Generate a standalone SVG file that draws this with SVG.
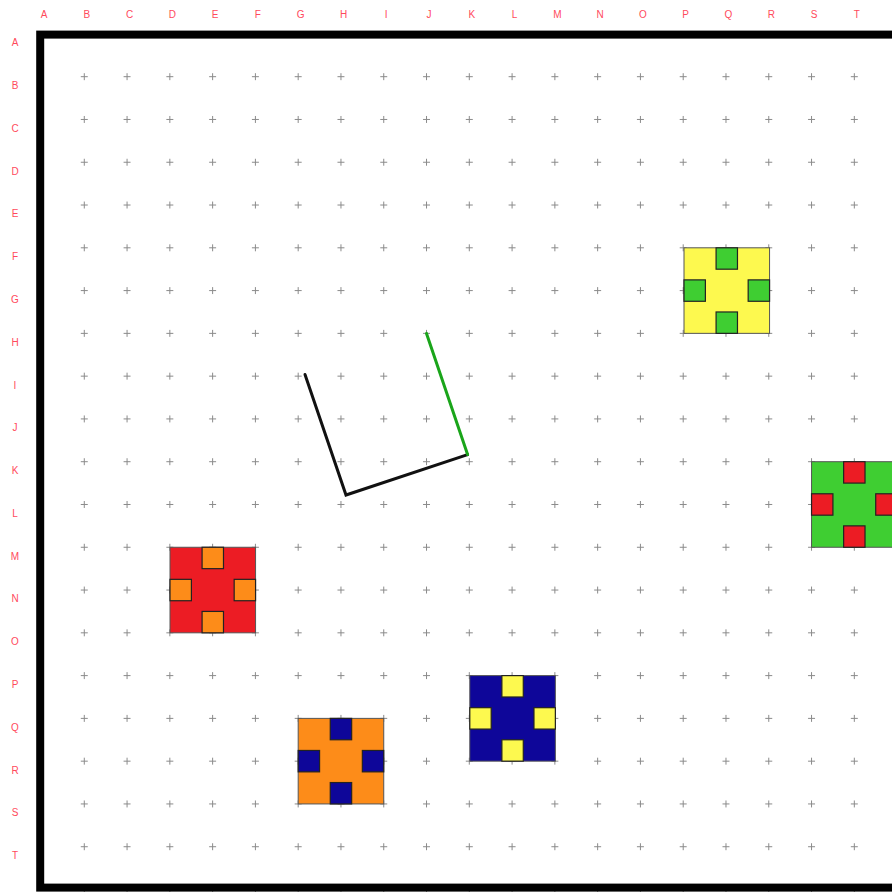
<svg xmlns="http://www.w3.org/2000/svg" width="892" height="892" viewBox="0 0 892 892">
<style>
.lbl{font-family:"Liberation Sans",Arial,sans-serif;font-size:10px;fill:#ff4a5c;text-anchor:middle}
.big{stroke:#555;stroke-width:1}
.sm{stroke:#222;stroke-width:1.2}
.cross{stroke:#8a8a8a;stroke-width:1;fill:none}
.edge{fill:none;stroke-width:3;stroke-linecap:round;stroke-linejoin:miter}
</style>
<defs>
<pattern id="grid" patternUnits="userSpaceOnUse" x="20.11" y="12.51" width="42.78" height="42.78">
<path class="cross" d="M17.89 21.39H24.89M21.39 17.89V24.89"/>
</pattern>
<g id="cell4">
<rect class="sm" x="32.085" y="0" width="21.39" height="21.39"/>
<rect class="sm" x="32.085" y="64.17" width="21.39" height="21.39"/>
<rect class="sm" x="0" y="32.085" width="21.39" height="21.39"/>
<rect class="sm" x="64.17" y="32.085" width="21.39" height="21.39"/>
</g>
</defs>
<rect width="892" height="892" fill="#fff"/>
<g id="labels">
<text class="lbl" x="44" y="18">A</text>
<text class="lbl" x="86.8" y="18">B</text>
<text class="lbl" x="129.6" y="18">C</text>
<text class="lbl" x="172.3" y="18">D</text>
<text class="lbl" x="215.1" y="18">E</text>
<text class="lbl" x="257.9" y="18">F</text>
<text class="lbl" x="300.7" y="18">G</text>
<text class="lbl" x="343.5" y="18">H</text>
<text class="lbl" x="386.2" y="18">I</text>
<text class="lbl" x="429" y="18">J</text>
<text class="lbl" x="471.8" y="18">K</text>
<text class="lbl" x="514.6" y="18">L</text>
<text class="lbl" x="557.4" y="18">M</text>
<text class="lbl" x="600.1" y="18">N</text>
<text class="lbl" x="642.9" y="18">O</text>
<text class="lbl" x="685.7" y="18">P</text>
<text class="lbl" x="728.5" y="18">Q</text>
<text class="lbl" x="771.3" y="18">R</text>
<text class="lbl" x="814" y="18">S</text>
<text class="lbl" x="856.8" y="18">T</text>
<text class="lbl" x="15" y="46.3">A</text>
<text class="lbl" x="15" y="89.1">B</text>
<text class="lbl" x="15" y="131.9">C</text>
<text class="lbl" x="15" y="174.6">D</text>
<text class="lbl" x="15" y="217.4">E</text>
<text class="lbl" x="15" y="260.2">F</text>
<text class="lbl" x="15" y="303">G</text>
<text class="lbl" x="15" y="345.8">H</text>
<text class="lbl" x="15" y="388.5">I</text>
<text class="lbl" x="15" y="431.3">J</text>
<text class="lbl" x="15" y="474.1">K</text>
<text class="lbl" x="15" y="516.9">L</text>
<text class="lbl" x="15" y="559.7">M</text>
<text class="lbl" x="15" y="602.4">N</text>
<text class="lbl" x="15" y="645.2">O</text>
<text class="lbl" x="15" y="688">P</text>
<text class="lbl" x="15" y="730.8">Q</text>
<text class="lbl" x="15" y="773.6">R</text>
<text class="lbl" x="15" y="816.3">S</text>
<text class="lbl" x="15" y="859.1">T</text>
</g>
<rect id="dots" x="62" y="55" width="840" height="840" fill="url(#grid)"/>
<g id="node-yellow" transform="translate(684,247.8)">
<rect class="big" width="85.56" height="85.56" fill="#fdf94f"/>
<use href="#cell4" fill="#3fce32"/>
</g>
<g id="node-green" transform="translate(811.54,461.7)">
<rect class="big" width="85.56" height="85.56" fill="#3fce32"/>
<use href="#cell4" fill="#ec1c24"/>
</g>
<g id="node-red" transform="translate(170,547.26)">
<rect class="big" width="85.56" height="85.56" fill="#ec1c24"/>
<use href="#cell4" fill="#fd8c19"/>
</g>
<g id="node-orange" transform="translate(298.18,718.38)">
<rect class="big" width="85.56" height="85.56" fill="#fd8c19"/>
<use href="#cell4" fill="#0e0699"/>
</g>
<g id="node-navy" transform="translate(469.8,675.6)">
<rect class="big" width="85.56" height="85.56" fill="#0e0699"/>
<use href="#cell4" fill="#fdf94f"/>
</g>
<g id="connectors">
<polyline class="edge" stroke="#111" points="305,374.5 346,495 467.6,454.6"/>
<line class="edge" stroke="#1aa51a" x1="467.6" y1="454.6" x2="426.5" y2="333.4"/>
</g>
<rect id="frame" x="40.2" y="34.6" width="870" height="853" fill="none" stroke="#000" stroke-width="8"/>
</svg>
